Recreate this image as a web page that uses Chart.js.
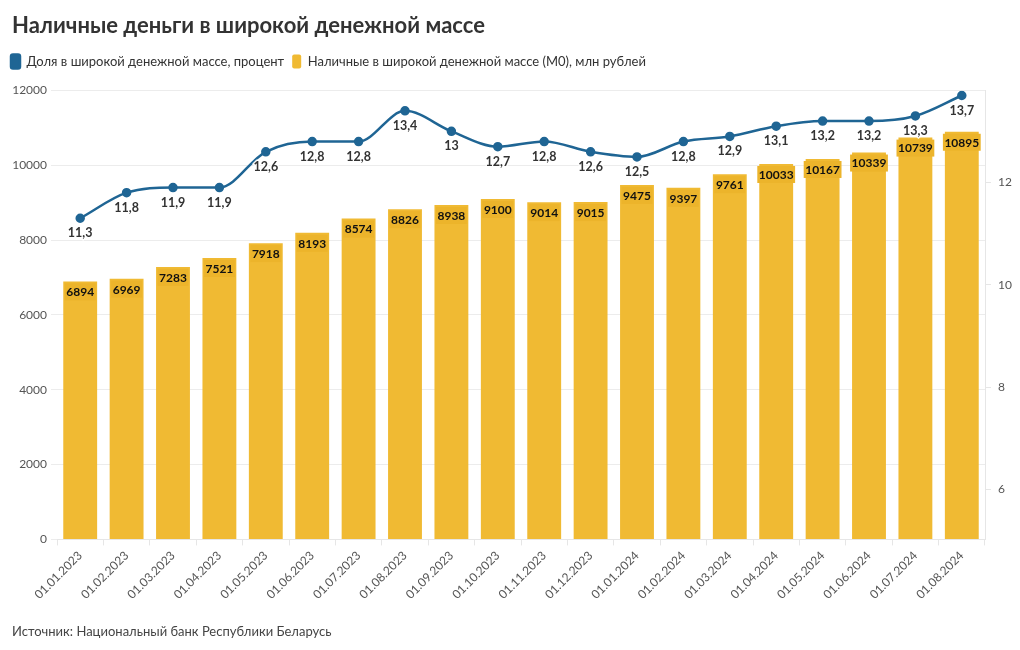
<!DOCTYPE html>
<html>
<head>
<meta charset="utf-8">
<script src="https://cdn.jsdelivr.net/npm/chart.js@4"></script>
<style>
  body { margin: 0; background: #fff; }
  #wrap { width: 1020px; height: 650px; position: relative; }
</style>
</head>
<body>
<div id="wrap"><canvas id="moneyChart"></canvas></div>
<script>
const dates = ['01.01.2023', '01.02.2023', '01.03.2023', '01.04.2023', '01.05.2023', '01.06.2023',
  '01.07.2023', '01.08.2023', '01.09.2023', '01.10.2023', '01.11.2023', '01.12.2023',
  '01.01.2024', '01.02.2024', '01.03.2024', '01.04.2024', '01.05.2024', '01.06.2024',
  '01.07.2024', '01.08.2024']
const cashM0 = [6894, 6969, 7283, 7521, 7918, 8193, 8574, 8826, 8938, 9100, 9014, 9015,
  9475, 9397, 9761, 10033, 10167, 10339, 10739, 10895]
const sharePercent = [11.3, 11.8, 11.9, 11.9, 12.6, 12.8, 12.8, 13.4, 13, 12.7, 12.8, 12.6,
  12.5, 12.8, 12.9, 13.1, 13.2, 13.2, 13.3, 13.7]
const leftTicks = [0, 2000, 4000, 6000, 8000, 10000, 12000]
const rightTicks = [6, 8, 10, 12]

const FONT = 'Lato, "Noto Sans", sans-serif'
const blue = '#1f6594'
const gold = '#f0ba33'

// value labels on bars and points
const valueLabels = {
  id: 'valueLabels',
  afterDatasetsDraw(chart) {
    const ctx = chart.ctx
    ctx.save()
    ctx.textAlign = 'center'
    ctx.textBaseline = 'middle'
    ctx.font = 'bold 12px ' + FONT
    chart.getDatasetMeta(1).data.forEach((bar, i) => {
      let txt = String(cashM0[i])
      let w = ctx.measureText(txt).width + 3
      ctx.fillStyle = '#ecb42b'
      ctx.fillRect(bar.x - w / 2, bar.y + 2, w, 17)
      ctx.fillStyle = '#111'
      ctx.fillText(txt, bar.x, bar.y + 11)
    })
    ctx.font = 'bold 12.5px ' + FONT
    chart.getDatasetMeta(0).data.forEach((pt, i) => {
      let txt = String(sharePercent[i]).replace('.', ',')
      ctx.lineWidth = 3
      ctx.strokeStyle = 'rgba(255,255,255,0.85)'
      ctx.strokeText(txt, pt.x, pt.y + 15)
      ctx.fillStyle = '#333'
      ctx.fillText(txt, pt.x, pt.y + 15)
    })
    ctx.restore()
  }
}

// extra gap under the legend, legend flush left
const legendGap = {
  id: 'legendGap',
  beforeInit(chart) {
    const fit = chart.legend.fit
    chart.legend.fit = function () {
      fit.bind(chart.legend)()
      this.height += 12
    }
  },
  afterLayout(chart) {
    chart.legend.left -= 9
  }
}

const moneyChart = new Chart(document.getElementById('moneyChart'), {
  data: {
    labels: dates,
    datasets: [{
      type: 'line',
      label: 'Доля в широкой денежной массе, процент',
      data: sharePercent,
      yAxisID: 'y1',
      borderColor: blue,
      backgroundColor: blue,
      borderWidth: 2.5,
      pointRadius: 3.5,
      pointHoverRadius: 3.5,
      cubicInterpolationMode: 'monotone',
      order: 0
    }, {
      type: 'bar',
      label: 'Наличные в широкой денежной массе (M0), млн рублей',
      data: cashM0,
      yAxisID: 'y',
      backgroundColor: gold,
      categoryPercentage: 1,
      barPercentage: 0.73,
      order: 1
    }]
  },
  options: {
    responsive: true,
    maintainAspectRatio: false,
    animation: false,
    devicePixelRatio: 1,
    layout: { padding: { top: 0, left: 12, right: 0, bottom: 0 } },
    plugins: {
      title: {
        display: true,
        text: 'Наличные деньги в широкой денежной массе',
        align: 'start',
        color: '#333',
        font: { family: FONT, size: 22, weight: 'bold' },
        padding: { top: 13, bottom: 7 }
      },
      legend: {
        align: 'start',
        labels: {
          color: '#333',
          font: { family: FONT, size: 13 },
          boxWidth: 9,
          boxHeight: 14,
          useBorderRadius: true,
          borderRadius: 2,
          padding: 8
        }
      },
      subtitle: {
        display: true,
        position: 'bottom',
        text: 'Источник: Национальный банк Республики Беларусь',
        align: 'start',
        color: '#444',
        font: { family: FONT, size: 13 },
        padding: { top: 4, bottom: 10 }
      },
      tooltip: { enabled: false }
    },
    scales: {
      x: {
        grid: { drawOnChartArea: false, tickLength: 6, color: '#e6e6e6' },
        border: { color: '#e6e6e6' },
        ticks: { color: '#555', font: { family: FONT, size: 12 }, maxRotation: 45, minRotation: 45, autoSkip: false },
        afterFit(scale) { scale.height = 81 }
      },
      y: {
        position: 'left',
        min: 0,
        max: 12000,
        afterBuildTicks(scale) { scale.ticks = leftTicks.map(v => ({ value: v })) },
        grid: { color: '#ececec', tickLength: 6 },
        border: { display: false },
        ticks: { color: '#555', font: { family: FONT, size: 12 }, padding: 4, callback: v => String(v) },
        afterFit(scale) { scale.width = 45 }
      },
      y1: {
        position: 'right',
        min: 5.02,
        max: 13.8,
        afterBuildTicks(scale) { scale.ticks = rightTicks.map(v => ({ value: v })) },
        grid: { drawOnChartArea: false, tickLength: 6, color: '#e6e6e6' },
        border: { color: '#e6e6e6' },
        ticks: { color: '#555', font: { family: FONT, size: 12 }, padding: 7 },
        afterFit(scale) { scale.width = 35 }
      }
    }
  },
  plugins: [valueLabels, legendGap]
})
</script>
</body>
</html>
